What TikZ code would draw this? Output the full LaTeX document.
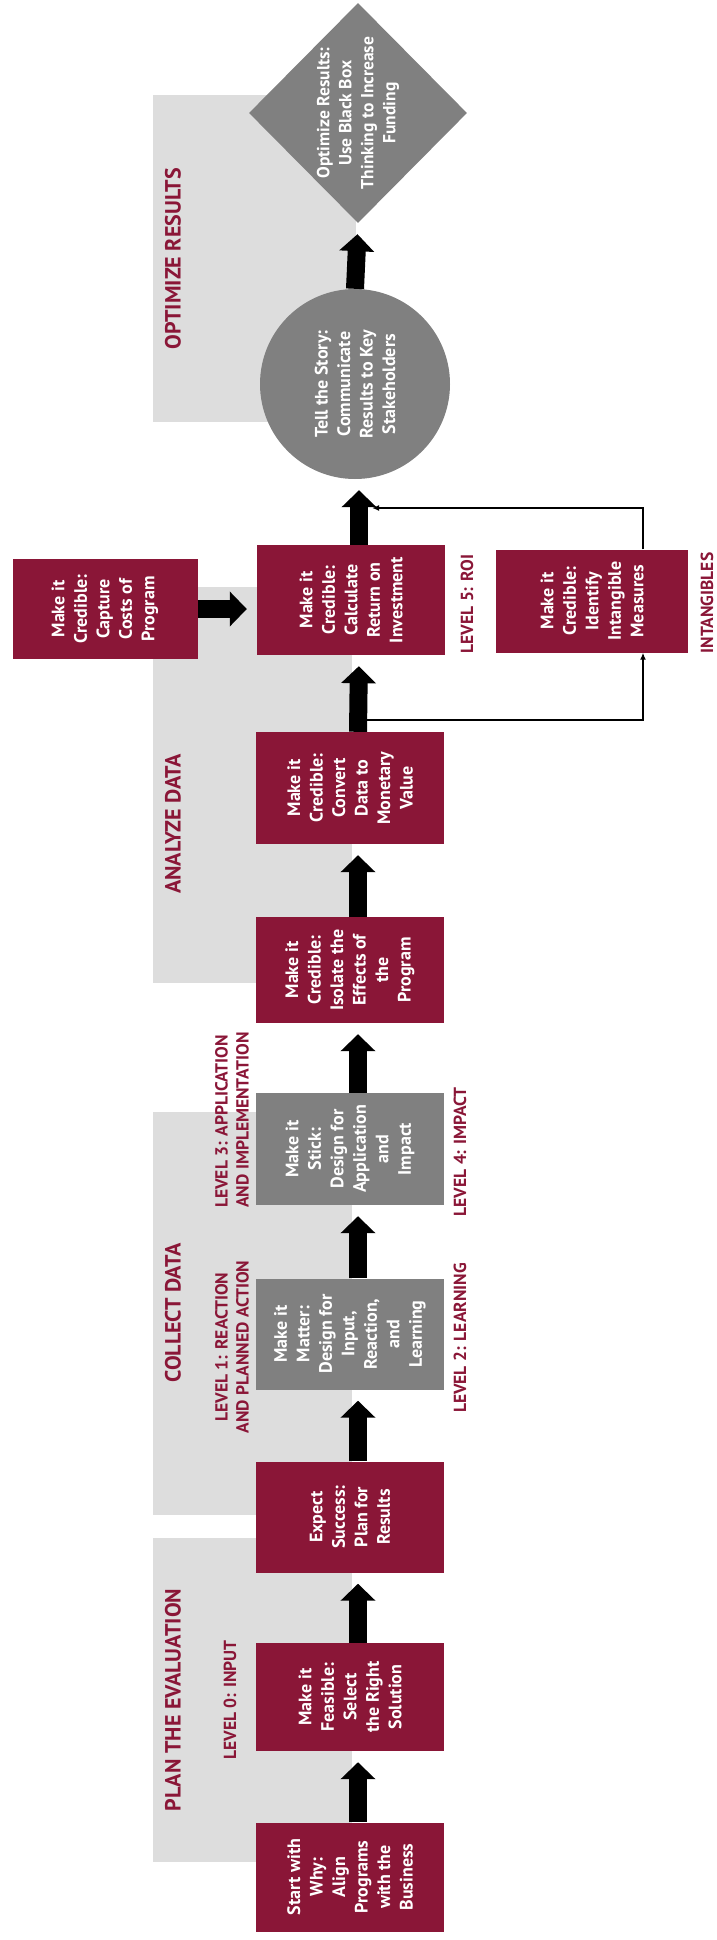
\documentclass[tikz,border=0pt]{standalone}
\usepackage{fontspec}
\setmainfont{PT Sans}
\usetikzlibrary{shapes.geometric, arrows.meta, positioning}
\definecolor{roired}{RGB}{138,22,55}
\definecolor{stepgray}{RGB}{128,128,128}
\definecolor{bandgray}{RGB}{221,221,221}

\begin{document}
\begin{tikzpicture}[x=1pt, y=-1pt,
        redbox/.style={rectangle, fill=roired, text=white, rotate=90, align=center,
            font=\bfseries\fontsize{18}{22.5}\selectfont, inner sep=2pt,
            minimum width=110pt, minimum height=188pt},
        graybox/.style={redbox, fill=stepgray},
        bigarrow/.style={line width=18pt, -{Triangle[width=34pt,length=17pt]}, shorten >=11pt},
        flowarrow/.style={bigarrow, transform canvas={xshift=8pt}},
        fbline/.style={line width=1.6pt, -{Latex[length=7pt,width=6pt]}},
        phase/.style={text=roired, rotate=90, font=\bfseries\fontsize{22}{26}\selectfont},
        level/.style={text=roired, rotate=90, align=center, font=\bfseries\fontsize{17.5}{21}\selectfont}]

        \useasboundingbox (0,0) rectangle (716,1940);

        % phase bands
        \fill[bandgray] (153,1538) rectangle (352,1862);
        \fill[bandgray] (153,1112) rectangle (352,1515);
        \fill[bandgray] (153,587) rectangle (352,983);
        \fill[bandgray] (153,95) rectangle (356,422);

        \node[phase] (plan) at (173,1700) {PLAN THE EVALUATION};
        \node[phase] (collect) at (173,1313) {COLLECT DATA};
        \node[phase] (analyze) at (173,824) {ANALYZE DATA};
        \node[phase] (optimize) at (173,259) {OPTIMIZE RESULTS};

        % steps
        \node[redbox, minimum width=109pt] (why) at (350,1877) {Start with\\Why:\\Align\\Programs\\with the\\Business};
        \node[redbox, minimum width=108pt] (feasible) at (350,1697) {Make it\\Feasible:\\Select\\the Right\\Solution};
        \node[redbox, minimum width=111pt] (success) at (350,1517) {Expect\\Success:\\Plan for\\Results};
        \node[graybox, minimum width=111pt] (matter) at (350,1334) {Make it\\Matter:\\Design for\\Input,\\Reaction,\\and\\Learning};
        \node[graybox, minimum width=112pt] (stick) at (350,1149) {Make it\\Stick:\\Design for\\Application\\and\\Impact};
        \node[redbox, minimum width=106pt] (isolate) at (350,970) {Make it\\Credible:\\Isolate the\\Effects of\\the\\Program};
        \node[redbox, minimum width=112pt] (convert) at (350,788) {Make it\\Credible:\\Convert\\Data to\\Monetary\\Value};
        \node[redbox] (roi) at (351,600) {Make it\\Credible:\\Calculate\\Return on\\Investment};
        \node[redbox, minimum width=100pt, minimum height=185pt] (costs) at (105,609) {Make it\\Credible:\\Capture\\Costs of\\Program};
        \node[redbox, minimum width=103pt, minimum height=192pt] (intang) at (592,601) {Make it\\Credible:\\Identify\\Intangible\\Measures};
        \node[circle, fill=stepgray, minimum size=190pt, inner sep=0pt] (story) at (355,384) {};
        \node[text=white, rotate=90, align=center, font=\bfseries\fontsize{18}{22.5}\selectfont] (storytext) at (story) {Tell the Story:\\Communicate\\Results to Key\\Stakeholders};
        \node[diamond, fill=stepgray, minimum width=218pt, minimum height=220pt, inner sep=0pt] (optim) at (358,113) {};
        \node[text=white, rotate=90, align=center, font=\bfseries\fontsize{17.5}{22}\selectfont] (optimtext) at (optim) {Optimize Results:\\Use Black Box\\Thinking to Increase\\Funding};

        % levels
        \node[level] (lvl0) at (230,1700) {LEVEL 0: INPUT};
        \node[level] (lvl1) at (232,1347) {LEVEL 1: REACTION\\AND PLANNED ACTION};
        \node[level, align=left] (lvl3) at (232,1120) {LEVEL 3: APPLICATION\\AND IMPLEMENTATION};
        \node[level] (lvl2) at (460,1338) {LEVEL 2: LEARNING};
        \node[level] (lvl4) at (460,1152) {LEVEL 4: IMPACT};
        \node[level] (lvl5) at (467,604) {LEVEL 5: ROI};
        \node[level] (intanglabel) at (707,603) {INTANGIBLES};

        % intangibles loop
        \coordinate (split) at (359,720);
        \coordinate (merge) at (372,508);
        \draw[fbline] (split) -| ([xshift=51pt]intang.west);
        \draw[fbline] ([xshift=51pt]intang.east) |- (merge);

        \draw[flowarrow] (why.east) -- (feasible.west);
        \draw[flowarrow] (feasible.east) -- (success.west);
        \draw[flowarrow] (success.east) -- (matter.west);
        \draw[flowarrow] (matter.east) -- (stick.west);
        \draw[flowarrow] (stick.east) -- (isolate.west);
        \draw[flowarrow] (isolate.east) -- (convert.west);
        \draw[flowarrow] (convert.east) -- (roi.west);
        \draw[flowarrow] (roi.east) -- (story.south -| roi.east);
        \draw[bigarrow] (story.north) -- (optim.south);
        \draw[bigarrow, shorten >=10pt] (costs.south) -- (costs.south -| roi.north);
    \end{tikzpicture}
\end{document}
